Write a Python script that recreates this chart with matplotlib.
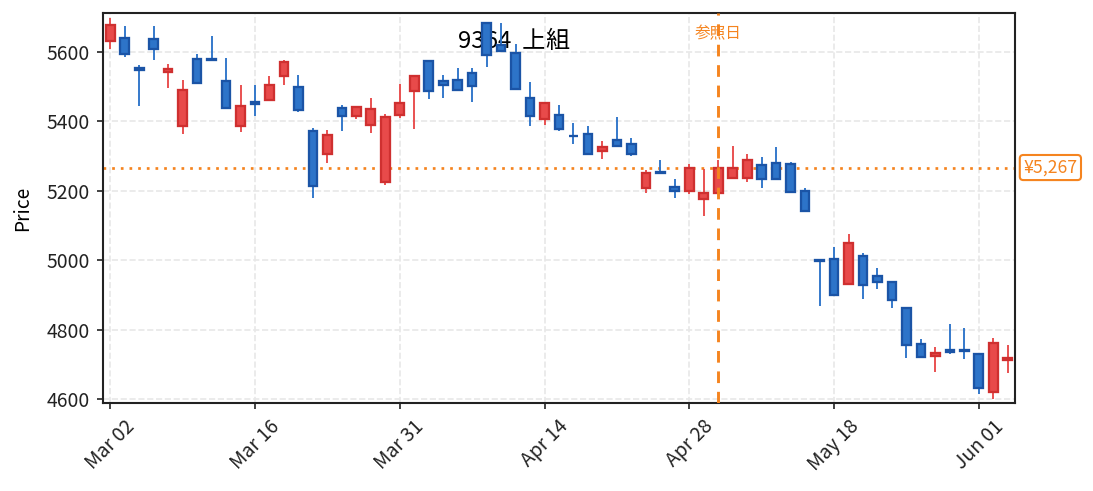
"""Candlestick chart for 9364 上組 with a reference-date marker."""

import matplotlib

matplotlib.use("Agg")
import matplotlib.pyplot as plt  # noqa: E402
import matplotlib.transforms as mtrans  # noqa: E402
import numpy as np  # noqa: E402
import pandas as pd  # noqa: E402

plt.rcParams["font.family"] = ["Noto Sans CJK JP", "DejaVu Sans"]

TITLE = "9364  上組"
REF_DATE = "2026-05-01"
REF_PRICE = 5267

DATES = [
    "2026-03-02", "2026-03-03", "2026-03-04", "2026-03-05", "2026-03-06",
    "2026-03-09", "2026-03-10", "2026-03-11", "2026-03-12", "2026-03-13",
    "2026-03-16", "2026-03-17", "2026-03-18", "2026-03-19", "2026-03-23",
    "2026-03-24", "2026-03-25", "2026-03-26", "2026-03-27", "2026-03-30",
    "2026-03-31", "2026-04-01", "2026-04-02", "2026-04-03", "2026-04-06",
    "2026-04-07", "2026-04-08", "2026-04-09", "2026-04-10", "2026-04-13",
    "2026-04-14", "2026-04-15", "2026-04-16", "2026-04-17", "2026-04-20",
    "2026-04-21", "2026-04-22", "2026-04-23", "2026-04-24", "2026-04-27",
    "2026-04-28", "2026-04-30", "2026-05-01", "2026-05-07", "2026-05-08",
    "2026-05-11", "2026-05-12", "2026-05-13", "2026-05-14", "2026-05-15",
    "2026-05-18", "2026-05-19", "2026-05-20", "2026-05-21", "2026-05-22",
    "2026-05-25", "2026-05-26", "2026-05-27", "2026-05-28", "2026-05-29",
    "2026-06-01", "2026-06-02", "2026-06-03",
]

OPEN = [
    5631, 5640, 5554, 5636, 5543, 5386, 5580, 5580, 5517, 5386,
    5456, 5461, 5530, 5499, 5373, 5306, 5439, 5415, 5389, 5224,
    5417, 5487, 5574, 5517, 5519, 5538, 5683, 5620, 5597, 5468,
    5408, 5419, 5359, 5364, 5314, 5347, 5335, 5207, 5253, 5212,
    5199, 5176, 5193, 5238, 5238, 5273, 5281, 5278, 5200, 5001,
    5004, 4933, 5013, 4956, 4938, 4864, 4758, 4724, 4743, 4743,
    4729, 4621, 4713,
]
HIGH = [
    5697, 5674, 5562, 5674, 5564, 5518, 5593, 5645, 5581, 5504,
    5504, 5530, 5578, 5533, 5380, 5375, 5446, 5442, 5467, 5420,
    5507, 5531, 5574, 5533, 5553, 5553, 5683, 5683, 5622, 5513,
    5453, 5447, 5395, 5388, 5343, 5412, 5351, 5260, 5288, 5234,
    5276, 5262, 5290, 5329, 5306, 5297, 5326, 5283, 5207, 5005,
    5037, 5075, 5020, 4978, 4938, 4864, 4772, 4749, 4816, 4805,
    4732, 4775, 4756,
]
LOW = [
    5609, 5586, 5445, 5578, 5496, 5364, 5510, 5576, 5438, 5370,
    5416, 5461, 5505, 5427, 5180, 5281, 5373, 5408, 5367, 5218,
    5410, 5377, 5465, 5468, 5490, 5456, 5557, 5600, 5493, 5387,
    5390, 5373, 5335, 5307, 5292, 5329, 5301, 5194, 5251, 5180,
    5190, 5128, 5193, 5238, 5224, 5209, 5233, 5196, 5140, 4869,
    4900, 4933, 4889, 4918, 4863, 4720, 4722, 4679, 4729, 4717,
    4616, 4602, 4676,
]
CLOSE = [
    5678, 5593, 5547, 5608, 5551, 5491, 5510, 5576, 5438, 5445,
    5449, 5505, 5571, 5432, 5213, 5362, 5415, 5442, 5436, 5413,
    5453, 5531, 5487, 5504, 5490, 5501, 5590, 5602, 5493, 5415,
    5453, 5377, 5357, 5307, 5327, 5329, 5307, 5252, 5251, 5199,
    5266, 5194, 5266, 5266, 5289, 5233, 5233, 5196, 5143, 4998,
    4900, 5050, 4929, 4938, 4885, 4756, 4722, 4732, 4736, 4739,
    4632, 4761, 4720,
]

UP_FILL, UP_EDGE = "#e84a4a", "#cf3030"
DOWN_FILL, DOWN_EDGE = "#2d74c9", "#1b54a6"
ACCENT = "#f5841f"


def render(out_path: str) -> None:
    df = pd.DataFrame({"date": pd.to_datetime(DATES), "open": OPEN,
                       "high": HIGH, "low": LOW, "close": CLOSE})
    x = np.arange(len(df))
    up = df["close"] >= df["open"]

    fig = plt.figure(figsize=(1093 / 150, 491 / 150), dpi=150)
    ax = fig.add_axes([103 / 1093, 1 - 402.7 / 491, 912 / 1093, 389.4 / 491])

    wick_col = np.where(up, UP_FILL, DOWN_FILL)
    ax.vlines(x, df["low"], df["high"], colors=wick_col, linewidth=0.9, zorder=2)
    bottom = np.minimum(df["open"], df["close"])
    height = (df["close"] - df["open"]).abs()
    ax.bar(x, height, bottom=bottom, width=0.6,
           color=np.where(up, UP_FILL, DOWN_FILL),
           edgecolor=np.where(up, UP_EDGE, DOWN_EDGE),
           linewidth=1.1, zorder=3)

    # reference date + reference price
    ref_x = int(np.flatnonzero(df["date"] == pd.Timestamp(REF_DATE))[0])
    ax.axvline(ref_x, color=ACCENT, linestyle=(0, (4, 3)), linewidth=1.4, zorder=4)
    ax.text(ref_x, 0.947, "参照日", color=ACCENT, fontsize=7.5, ha="center",
            va="center", transform=mtrans.blended_transform_factory(ax.transData, ax.transAxes))
    ax.axhline(REF_PRICE, color=ACCENT, linestyle=(0, (1, 2.2)), linewidth=1.3, zorder=1.5)
    ax.annotate(f"¥{REF_PRICE:,}", xy=(1, REF_PRICE),
                xycoords=mtrans.blended_transform_factory(ax.transAxes, ax.transData),
                xytext=(4, 0), textcoords="offset points", ha="left", va="center",
                color=ACCENT, fontsize=8.5,
                bbox=dict(boxstyle="round,pad=0.2", fc="white", ec=ACCENT, lw=1.0),
                annotation_clip=False)

    ax.text(0.389, 0.928, TITLE, transform=ax.transAxes, fontsize=11.5,
            ha="left", va="center", zorder=0.5)

    ticks = x[::10]
    ax.set_xticks(ticks)
    ax.set_xticklabels([df["date"][i].strftime("%b %d") for i in ticks],
                       rotation=45, fontsize=9.3)
    ax.set_yticks(np.arange(4600, 5601, 200))
    ax.tick_params(axis="y", labelsize=9.3)
    ax.tick_params(length=3, width=0.8, colors="#222222")
    ax.set_xlim(-0.5, len(df) - 0.5)
    ax.set_ylim(4590, 5711)
    ax.set_ylabel("Price", fontsize=9.2, labelpad=6)
    ax.grid(True, linestyle="--", color="#e8e8e8", linewidth=0.8, zorder=0)
    ax.set_axisbelow(True)
    for sp in ax.spines.values():
        sp.set_color("#222222")
        sp.set_linewidth(1.0)

    fig.savefig(out_path, dpi=150)
    plt.close(fig)


if __name__ == "__main__":
    render("out.png")
